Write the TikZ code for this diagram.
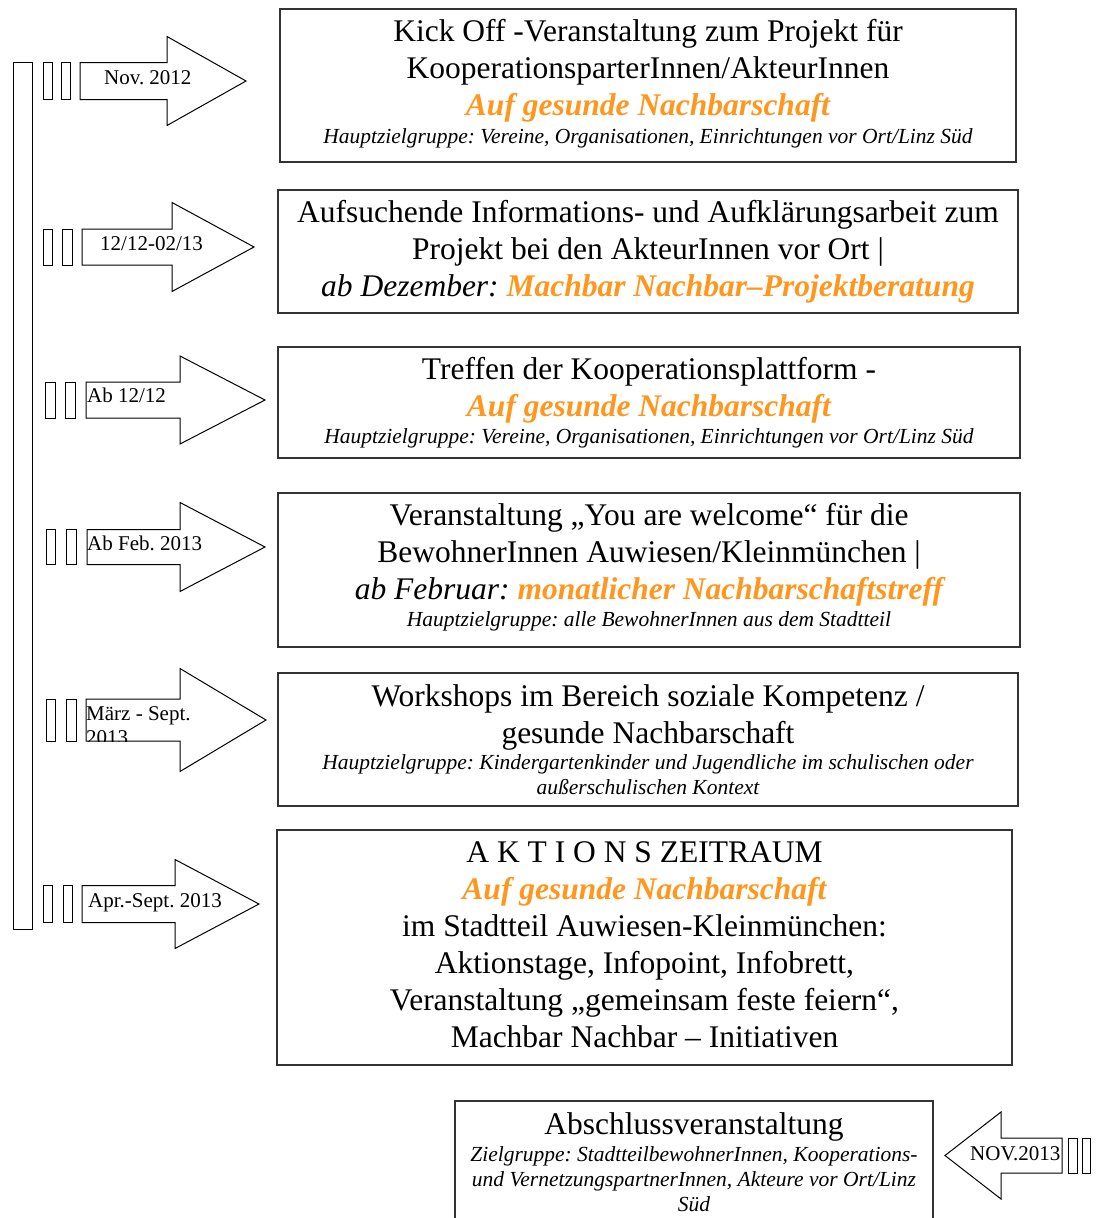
\documentclass[tikz,border=0pt]{standalone}
\usepackage{fontspec}
\setmainfont{Liberation Serif}
\usepackage{xcolor}
\definecolor{AktionOrange}{HTML}{FF961E}
\definecolor{RahmenGrau}{HTML}{333333}
\frenchspacing

\newcommand{\grossschrift}{\fontsize{31.5}{37}\selectfont}
\newcommand{\kleinschrift}{\fontsize{21.5}{25}\selectfont\itshape}
\newcommand{\motto}[1]{{\color{AktionOrange}\bfseries\itshape #1}}
% etwas Luft unter dem Text, damit er im Rahmen hoeher sitzt
\newcommand{\untenluft}[1]{\par\vspace{#1}\hrule height 0pt}
% Pfeilumriss: Schaft x, Kopf x, Spitze x, Mitte y, halber Schaft, halber Kopf
\newcommand{\zeitpfeil}[6]{%
  \draw[pfeilrand] (#1,#4-#5) -- (#2,#4-#5) -- (#2,#4-#6) -- (#3,#4)
    -- (#2,#4+#6) -- (#2,#4+#5) -- (#1,#4+#5) -- cycle;}
\newcommand{\sperre}[4]{\draw[pfeilrand] (#1,#3) rectangle (#2,#4);}

\tikzset{
  textbox/.style={draw=RahmenGrau, line width=1.3pt, align=flush center,
                  inner sep=4pt, font=\grossschrift},
  pfeilrand/.style={draw=black, line width=1pt, fill=white},
  datum/.style={anchor=base west, inner sep=0pt, font=\fontsize{21}{24}\selectfont},
}

\begin{document}
\begin{tikzpicture}[x=1pt, y=-1pt]
\useasboundingbox (0,0) rectangle (1096,1218);
\clip (0,0) rectangle (1096,1218);

% Zeitleiste
\draw[pfeilrand] (13,62) rectangle (32,929);

% Pfeile mit Datum
\sperre{43}{52}{62}{99}\sperre{61}{70}{62}{99}
\zeitpfeil{80}{167}{246}{81}{18.5}{44.5}
\node[datum] (nov12) at (104,84) {Nov. 2012};

\sperre{43}{52}{229}{265}\sperre{62}{72}{229}{265}
\zeitpfeil{82}{172}{254}{247}{18}{44.5}
\node[datum] (dezfeb) at (100,250) {12/12-02/13};

\sperre{45}{55}{382}{418}\sperre{65}{75}{382}{418}
\zeitpfeil{86}{180}{265}{400}{18}{44}
\node[datum] (ab1212) at (87,402) {Ab 12/12};

\sperre{46}{55}{529}{564}\sperre{66}{76}{529}{564}
\zeitpfeil{87}{180}{265}{547}{17.5}{44.5}
\node[datum] (abfeb) at (87,550) {Ab Feb. 2013};

\sperre{46}{55}{699}{741}\sperre{66}{76}{699}{741}
\zeitpfeil{86}{180}{266}{720}{21}{51.5}
\begin{scope}
  \clip (86,699) rectangle (266,741);
  \node[datum] (maerz) at (86,720) {März - Sept.};
  \node[datum] (maerzjahr) at (86,744) {2013};
\end{scope}

\sperre{43}{52}{885}{922}\sperre{63}{72}{885}{922}
\zeitpfeil{82}{175}{259}{904}{18.5}{44.5}
\node[datum] (aprsept) at (88,907) {Apr.-Sept. 2013};

\sperre{1068}{1077}{1138}{1173}\sperre{1082}{1090}{1138}{1173}
\zeitpfeil{1062}{1001}{945}{1155.5}{17.5}{43.5}
\node[datum] (nov13) at (970,1160) {NOV.2013};

% Projektschritte
\node[textbox, text width=728pt, minimum height=153pt] (kickoff) at (648,85.5) {
  Kick Off -Veranstaltung zum Projekt für\par
  KooperationsparterInnen/AkteurInnen\par
  \motto{Auf gesunde Nachbarschaft}\par\vspace{2.5pt}
  \kleinschrift Hauptzielgruppe: Vereine, Organisationen, Einrichtungen vor Ort/Linz Süd
  \untenluft{4pt}
};

\node[textbox, text width=732pt, minimum height=123pt] (aufsuchend) at (648,251.5) {
  Aufsuchende Informations- und Aufklärungsarbeit zum\par
  Projekt bei den AkteurInnen vor Ort |\par
  \textit{ab Dezember:} \motto{Machbar Nachbar–Projektberatung}\par
};

\node[textbox, text width=734pt, minimum height=111pt] (plattform) at (649,402.5) {
  Treffen der Kooperationsplattform -\par
  \motto{Auf gesunde Nachbarschaft}\par\vspace{2.5pt}
  \kleinschrift Hauptzielgruppe: Vereine, Organisationen, Einrichtungen vor Ort/Linz Süd\par
};

\node[textbox, text width=734pt, minimum height=154pt] (welcome) at (649,570) {
  Veranstaltung „You are welcome“ für die\par
  BewohnerInnen Auwiesen/Kleinmünchen |\par
  \textit{ab Februar:} \motto{monatlicher Nachbarschaftstreff}\par\vspace{2.5pt}
  \kleinschrift Hauptzielgruppe: alle BewohnerInnen aus dem Stadtteil
  \untenluft{6pt}
};

\node[textbox, text width=732pt, minimum height=133pt] (workshops) at (648,739.5) {
  Workshops im Bereich soziale Kompetenz /\par
  gesunde Nachbarschaft\par\vspace{1.5pt}
  \kleinschrift Hauptzielgruppe: Kindergartenkinder und Jugendliche im schulischen oder\par
  außerschulischen Kontext\par
};

\node[textbox, text width=727pt, minimum height=235pt] (aktion) at (644.5,947.5) {
  A K T I O N S ZEITRAUM\par
  \motto{Auf gesunde Nachbarschaft}\par
  im Stadtteil Auwiesen-Kleinmünchen:\par
  Aktionstage, Infopoint, Infobrett,\par
  Veranstaltung „gemeinsam feste feiern“,\par
  Machbar Nachbar – Initiativen
  \untenluft{6pt}
};

\node[textbox, text width=470pt, minimum height=122pt] (abschluss) at (694,1162) {
  Abschlussveranstaltung\par\vspace{2.5pt}
  \kleinschrift Zielgruppe: StadtteilbewohnerInnen, Kooperations-\par
  und VernetzungspartnerInnen, Akteure vor Ort/Linz\par
  Süd\par
};
\end{tikzpicture}
\end{document}
